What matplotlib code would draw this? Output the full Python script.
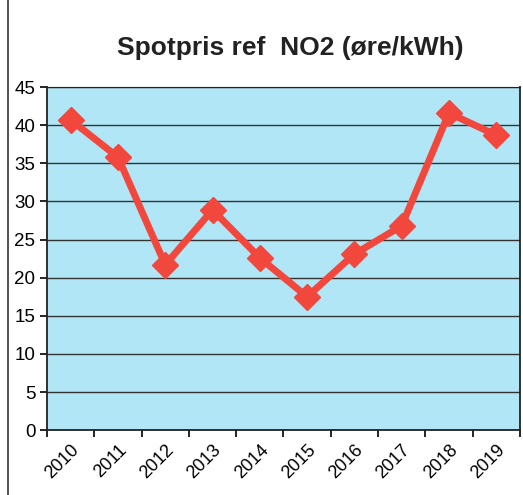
import matplotlib.pyplot as plt
import numpy as np
from matplotlib.lines import Line2D

years = ['2010', '2011', '2012', '2013', '2014', '2015', '2016', '2017', '2018', '2019']
prices = [40.7, 35.8, 21.7, 28.9, 22.6, 17.5, 23.1, 26.8, 41.6, 38.7]

plt.rcParams['font.family'] = ['Liberation Sans', 'DejaVu Sans']

fig = plt.figure(figsize=(5.23, 4.95), dpi=100)
ax = fig.add_axes([0.090, 0.131, 0.904, 0.693])
ax.set_facecolor('#b0e6f6')

x = np.arange(len(years))
ax.plot(x, prices, color='#f2473d', lw=5, marker='D', ms=13, zorder=3)

ax.set_xlim(-0.5, len(years) - 0.5)
ax.set_ylim(0, 45)
ax.set_yticks(range(0, 46, 5))
ax.yaxis.grid(True, color='#333333', lw=1.0)
ax.set_axisbelow(True)

ax.set_xticks(x)
ax.set_xticklabels(years, rotation=45, ha='right', rotation_mode='anchor')
ax.set_xticks(np.arange(-0.5, len(years), 1), minor=True)
ax.tick_params(axis='x', which='major', length=0, pad=8, labelsize=13)
ax.tick_params(axis='x', which='minor', length=5, width=1.2, direction='out')
ax.tick_params(axis='y', length=5, width=1.2, labelsize=13.5)

for s in ax.spines.values():
    s.set_color('#222222')
    s.set_linewidth(1.3)
ax.spines['top'].set_linewidth(0.8)

fig.text(0.556, 0.903, 'Spotpris ref  NO2 (øre/kWh)', ha='center', va='center',
         fontsize=19, fontweight='bold', color='#222222')
fig.add_artist(Line2D([0.016, 0.016], [0.0, 1.0], color='#333333', lw=1.2))

fig.savefig('out.png', dpi=100)
